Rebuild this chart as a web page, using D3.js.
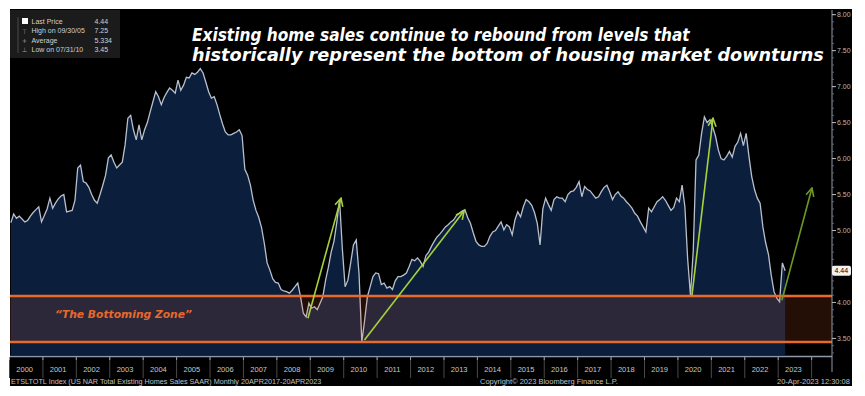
<!DOCTYPE html>
<html><head><meta charset="utf-8">
<script src="https://cdn.jsdelivr.net/npm/d3@7/dist/d3.min.js"></script>
<style>html,body{margin:0;padding:0;background:#fff;}svg{display:block;}</style>
</head><body>
<svg id="chart" width="865" height="396"></svg>
<script>
// ---------------- DATA ----------------
const startYear = 2000; // monthly values, Jan 2000 .. Mar 2023 (millions, SAAR)
const sales = [
  5.11,5.23,5.17,5.20,5.16,5.12,5.14,5.20,5.25,5.29,5.33,5.12, // 2000
  5.21,5.30,5.45,5.31,5.38,5.44,5.48,5.50,5.26,5.27,5.28,5.42, // 2001
  5.87,5.91,5.68,5.66,5.60,5.50,5.42,5.38,5.50,5.63,5.77,6.01, // 2002
  6.05,5.95,5.87,5.91,5.95,6.19,6.56,6.60,6.40,6.26,6.47,6.26, // 2003
  6.40,6.50,6.65,6.79,6.93,6.86,6.75,6.85,6.92,6.98,6.95,6.91, // 2004
  7.09,6.95,7.02,7.13,7.12,7.19,7.17,7.20,7.25,7.19,7.06,6.93, // 2005
  6.84,6.86,6.75,6.61,6.48,6.37,6.33,6.33,6.35,6.37,6.40,6.32, // 2006
  5.85,5.77,5.63,5.42,5.28,5.18,5.04,4.82,4.55,4.45,4.33,4.28, // 2007
  4.27,4.18,4.16,4.15,4.13,4.17,4.22,4.27,4.08,3.85,3.80,3.99, // 2008
  3.92,3.94,3.90,3.99,4.08,4.31,4.49,4.70,4.85,5.11,5.43,4.75, // 2009
  4.22,4.31,4.55,4.80,4.87,4.40,3.45,3.75,4.08,4.22,4.36,4.41, // 2010
  4.40,4.25,4.27,4.20,4.22,4.18,4.30,4.36,4.36,4.38,4.41,4.50, // 2011
  4.60,4.58,4.62,4.57,4.50,4.65,4.70,4.78,4.85,4.91,4.95,5.00, // 2012
  5.05,5.08,5.12,5.15,5.21,5.24,5.27,5.29,5.18,5.10,4.97,4.85, // 2013
  4.80,4.78,4.78,4.82,4.92,4.98,5.00,5.06,5.12,5.01,5.08,5.05, // 2014
  4.94,5.15,5.26,5.19,5.33,5.43,5.40,5.35,5.25,5.10,4.80,5.30, // 2015
  5.45,5.36,5.28,5.43,5.47,5.45,5.45,5.40,5.50,5.54,5.55,5.60, // 2016
  5.68,5.47,5.61,5.57,5.55,5.50,5.45,5.47,5.54,5.60,5.63,5.54, // 2017
  5.43,5.50,5.54,5.48,5.45,5.40,5.36,5.31,5.24,5.20,5.12,5.05, // 2018
  4.98,5.31,5.26,5.33,5.40,5.43,5.47,5.42,5.35,5.28,5.32,5.45, // 2019
  5.40,5.63,5.33,4.60,4.10,4.72,5.98,6.05,6.35,6.58,6.50,6.54, // 2020
  6.44,6.31,6.12,6.00,5.98,6.03,6.10,6.02,6.17,6.23,6.35,6.18, // 2021
  6.35,6.03,5.75,5.57,5.45,5.38,5.05,4.83,4.67,4.38,4.15,4.06, // 2022
  4.01,4.55,4.44                                              // 2023
];
const yearLabels = d3.range(2000, 2024).map(String);
const yTickValues = [3.5,4.0,4.5,5.0,5.5,6.0,6.5,7.0,7.5,8.0];
const zoneRange = [3.45, 4.09];
const lastPrice = 4.44;
const legendLabels = ["Last Price", "High on 09/30/05", "Average", "Low on 07/31/10"];
const legendValues = ["4.44", "7.25", "5.334", "3.45"];
// arrows: [fromYear, fromValue, toYear, toValue]
const arrowsData = [
  [2008.93, 3.78, 2009.92, 5.45],
  [2010.62, 3.48, 2013.60, 5.27],
  [2020.42, 4.10, 2021.05, 6.56],
  [2023.11, 4.03, 2024.01, 5.59]
];
const titleLines = [
  "Existing home sales continue to rebound from levels that",
  "historically represent the bottom of housing market downturns"
];
const zoneLabel = "\u201CThe Bottoming Zone\u201D";
const footerLeft = "ETSLTOTL Index (US NAR Total Existing Homes Sales SAAR)  Monthly 20APR2017-20APR2023";
const footerMid = "Copyright\u00A9 2023 Bloomberg Finance L.P.";
const footerRight = "20-Apr-2023 12:30:08";

// ---------------- LAYOUT ----------------
const svg = d3.select("#chart");
const L = 10, R = 832, T = 10, B = 355;
const x = d3.scaleLinear().domain([2000, 2024.61]).range([9.5, R]);
const y = d3.scaleLinear().domain([3.27, 8.065]).range([B, T]);
const pts = sales.map((v, i) => ({t: startYear + (i + 0.5) / 12, v}));

// helper: text squeezed horizontally to a target width (real geometry via transform)
function fitText(sel, str, x0, y0, width) {
  const t = sel.append("text").attr("x", 0).attr("y", 0).text(str);
  return {t, fit: () => {
    const w = t.node().getComputedTextLength();
    const k = Math.min(1.2, width / w);
    t.attr("transform", `translate(${x0},${y0}) scale(${k},1)`);
  }};
}

// black panel
svg.append("rect").attr("x", 10).attr("y", 9).attr("width", 842).attr("height", 377).attr("fill", "#000");

const defs = svg.append("defs");
defs.append("clipPath").attr("id", "plotclip").append("rect")
  .attr("x", L).attr("y", T).attr("width", R - L).attr("height", B - T);
["#a6d13a", "#6f9a22"].forEach((c, i) => {
  defs.append("marker").attr("id", "ah" + i).attr("viewBox", "0 0 10 10")
    .attr("refX", 9).attr("refY", 5).attr("markerWidth", 10).attr("markerHeight", 10)
    .attr("markerUnits", "userSpaceOnUse").attr("orient", "auto")
    .append("path").attr("d", "M1,1 L9,5 L1,9").attr("fill", "none")
    .attr("stroke", c).attr("stroke-width", 1.6);
});

const plot = svg.append("g").attr("clip-path", "url(#plotclip)");

// area
plot.append("path").datum(pts)
  .attr("d", d3.area().x(d => x(d.t)).y0(B).y1(d => y(d.v)))
  .attr("fill", "#0b1e3c");
plot.append("path").datum(pts)
  .attr("d", d3.line().x(d => x(d.t)).y(d => y(d.v)))
  .attr("fill", "none").attr("stroke", "#b8c0ce").attr("stroke-width", 1.3);

// bottoming zone overlay
plot.append("rect").attr("x", L).attr("width", R - L)
  .attr("y", y(zoneRange[1])).attr("height", y(zoneRange[0]) - y(zoneRange[1]))
  .attr("fill", "rgba(255,105,40,0.14)");
zoneRange.forEach(v => {
  plot.append("line").attr("x1", L).attr("x2", R).attr("y1", y(v)).attr("y2", y(v))
    .attr("stroke", "#e8692b").attr("stroke-width", 2.4);
});
const zl = fitText(svg, zoneLabel, 55, 317.5, 137);
zl.t.attr("font-family", "DejaVu Sans").attr("font-weight", "bold").attr("font-style", "italic")
  .attr("font-size", 11).attr("fill", "#e8692b");
zl.fit();

// arrows
arrowsData.forEach((a, i) => {
  const c = i === 3 ? "#6f9a22" : "#a6d13a";
  svg.append("line").attr("x1", x(a[0])).attr("y1", y(a[1])).attr("x2", x(a[2])).attr("y2", y(a[3]))
    .attr("stroke", c).attr("stroke-width", 1.6).attr("marker-end", `url(#ah${i === 3 ? 1 : 0})`);
});

// x axis
svg.append("line").attr("x1", L).attr("x2", R).attr("y1", 356.5).attr("y2", 356.5)
  .attr("stroke", "#8f98aa").attr("stroke-width", 1.5);
const xg = svg.append("g");
d3.range(2000, 2025).forEach(yr => {
  xg.append("line").attr("x1", x(yr)).attr("x2", x(yr)).attr("y1", 357).attr("y2", 378)
    .attr("stroke", "#4a4a4a").attr("stroke-width", 1);
  xg.append("line").attr("x1", x(yr)).attr("x2", x(yr)).attr("y1", 357).attr("y2", 360)
    .attr("stroke", "#9a9a9a").attr("stroke-width", 1);
});
yearLabels.forEach(lbl => {
  const yr = +lbl;
  xg.append("text").attr("x", (x(yr) + x(yr + 1)) / 2 - 1.5).attr("y", 371.5)
    .attr("text-anchor", "middle").attr("font-family", "Liberation Sans, Arial, sans-serif")
    .attr("font-size", 7.5).attr("fill", "#c8c8c8").text(lbl);
});

// right axis
svg.append("line").attr("x1", R).attr("x2", R).attr("y1", T).attr("y2", 372)
  .attr("stroke", "#8f98aa").attr("stroke-width", 1);
const yg = svg.append("g");
d3.range(3.3, 8.05, 0.1).forEach(v => {
  yg.append("line").attr("x1", R).attr("x2", R + 2).attr("y1", y(v)).attr("y2", y(v))
    .attr("stroke", "#777").attr("stroke-width", 0.8);
});
yTickValues.forEach(v => {
  yg.append("line").attr("x1", R).attr("x2", R + 4).attr("y1", y(v)).attr("y2", y(v))
    .attr("stroke", "#bbb").attr("stroke-width", 1);
  // the last-price badge hides any tick label it covers
  if (Math.abs(y(v) - y(lastPrice)) < 9) return;
  yg.append("text").attr("x", R + 5).attr("y", y(v) + 2.5)
    .attr("font-family", "Liberation Sans, Arial, sans-serif").attr("font-size", 7)
    .attr("fill", "#b8b8b8").text(v.toFixed(2));
});
svg.append("rect").attr("x", R).attr("y", y(lastPrice) - 5).attr("width", 19).attr("height", 10)
  .attr("rx", 2).attr("fill", "#f2f2f2");
svg.append("text").attr("x", R + 2.5).attr("y", y(lastPrice) + 2.5)
  .attr("font-family", "Liberation Sans, Arial, sans-serif").attr("font-size", 7)
  .attr("fill", "#000").text(lastPrice.toFixed(2));

// title
titleLines.forEach((str, i) => {
  const f = fitText(svg, str, 192, 41 + i * 20, i === 0 ? 498 : 632);
  f.t.attr("font-family", "DejaVu Sans").attr("font-weight", "bold").attr("font-style", "italic")
    .attr("font-size", 18.5).attr("fill", "#fff");
  f.fit();
});

// legend
const lg = svg.append("g");
lg.append("rect").attr("x", 10).attr("y", 10).attr("width", 110).attr("height", 48).attr("fill", "#1b1b1b");
lg.append("line").attr("x1", 18).attr("x2", 18).attr("y1", 17).attr("y2", 53).attr("stroke", "#555").attr("stroke-width", 0.8);
lg.append("rect").attr("x", 22).attr("y", 18).attr("width", 6).attr("height", 6).attr("fill", "#fff");
["\u22A4", "+", "\u22A5"].forEach((g, i) => {
  lg.append("text").attr("x", 24.5).attr("y", 33.5 + i * 9.3).attr("text-anchor", "middle")
    .attr("font-family", "DejaVu Sans").attr("font-size", 6.5).attr("fill", "#9a9a9a").text(g);
});
legendLabels.forEach((t, i) => {
  lg.append("text").attr("x", 31.5).attr("y", 24 + i * 9.3).text(t)
    .attr("font-family", "Liberation Sans, Arial, sans-serif").attr("font-size", 7).attr("fill", "#cfcfcf");
  lg.append("text").attr("x", 94.5).attr("y", 24 + i * 9.3).text(legendValues[i])
    .attr("font-family", "Liberation Sans, Arial, sans-serif").attr("font-size", 7).attr("fill", "#cfcfcf");
});

// footer
const ff = "Liberation Sans, Arial, sans-serif";
[[footerLeft, 11, 311], [footerMid, 480, 138], [footerRight, 777, 73]].forEach(([s, x0, w]) => {
  const f = fitText(svg, s, x0, 384, w);
  f.t.attr("font-family", ff).attr("font-size", 7).attr("fill", "#c0c0c0");
  f.fit();
});
</script>
</body></html>
